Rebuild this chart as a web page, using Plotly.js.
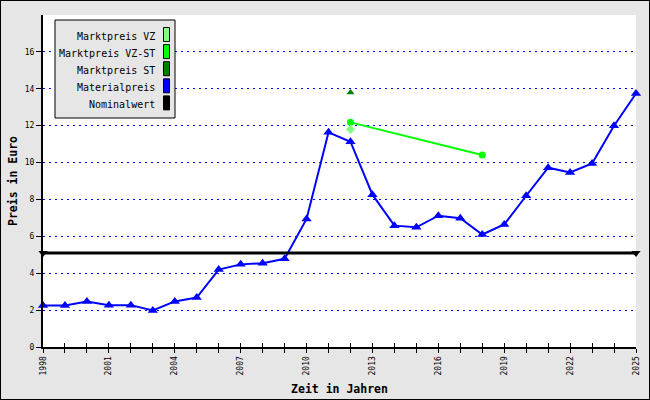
<!DOCTYPE html>
<html><head><meta charset="utf-8">
<script src="https://cdn.plot.ly/plotly-3.0.1.min.js"></script>
<style>html,body{margin:0;padding:0;background:#e6e6e6}#c{width:648px;height:398px;border:1px solid #000}</style>
</head><body><div id="c"></div>
<script>
const years = [1998,1999,2000,2001,2002,2003,2004,2005,2006,2007,2008,2009,2010,2011,2012,2013,2014,2015,2016,2017,2018,2019,2020,2021,2022,2023,2024,2025];
const materialpreis = [2.25,2.25,2.47,2.27,2.27,1.98,2.47,2.68,4.2,4.48,4.54,4.78,6.94,11.64,11.13,8.26,6.58,6.49,7.12,6.98,6.1,6.64,8.2,9.72,9.46,9.95,12.0,13.74];
const vzstYears = [2012,2018];
const vzstValues = [12.18,10.41];
const vzYears = [2012];
const vzValues = [11.8];
const stYears = [2012];
const stValues = [13.8];
const nominalYears = [1998,2025];
const nominalValues = [5.1,5.1];
const xTickLabels = years.map(y => ((y-1998)%3===0) ? String(y) : '');
const yTicks = [0,2,4,6,8,10,12,14,16];
const legendNames = ['Marktpreis VZ','Marktpreis VZ-ST','Marktpreis ST','Materialpreis','Nominalwert'];
const legendColors = ['#80ff80','#00ff00','#008000','#0000ff','#000000'];

const mono = 'DejaVu Sans Mono, monospace';
const traces = [
  {x: years, y: materialpreis, mode:'lines+markers', line:{color:'#0000ff', width:2},
   marker:{symbol:'triangle-up', size:9, color:'#0000ff'}, cliponaxis:false, hoverinfo:'none'},
  {x: nominalYears, y: nominalValues, mode:'lines+markers', line:{color:'#000000', width:3},
   marker:{symbol:'triangle-down', size:8, color:'#000000'}, cliponaxis:false, hoverinfo:'none'},
  {x: vzstYears, y: vzstValues, mode:'lines+markers', line:{color:'#00ff00', width:2},
   marker:{symbol:'circle', size:7, color:'#00ff00'}, cliponaxis:false, hoverinfo:'none'},
  {x: vzYears, y: vzValues, mode:'markers',
   marker:{symbol:'diamond', size:7, color:'#80ff80'}, cliponaxis:false, hoverinfo:'none'},
  {x: stYears, y: stValues, mode:'markers',
   marker:{symbol:'triangle-up', size:7, color:'#008000'}, cliponaxis:false, hoverinfo:'none'},
  {x: [years[0]], y: [0], xaxis:'x2', mode:'markers', marker:{opacity:0}, hoverinfo:'none'}
];

// pixel -> paper helpers (plot area 43..636 x, 15..347 y)
const px = x => (x-43)/593;
const py = y => (347-y)/332;
const shapes = [];
const annotations = [];
shapes.push({type:'rect', xref:'paper', yref:'paper', x0:px(55), x1:px(175), y0:py(20), y1:py(118),
  fillcolor:'#e6e6e6', line:{color:'#000', width:1}, layer:'above'});
legendNames.forEach((n,i) => {
  const cy = 34.5 + i*17.1;
  shapes.push({type:'rect', xref:'paper', yref:'paper', x0:px(163.5), x1:px(169.5), y0:py(cy-7), y1:py(cy+7),
    fillcolor:legendColors[i], line:{color:'#000', width:1}, layer:'above'});
  annotations.push({xref:'paper', yref:'paper', x:px(157), y:py(cy+1.5), xanchor:'right', yanchor:'middle',
    text:n, showarrow:false, font:{family:mono, size:10, color:'#000'}});
});

const layout = {
  width:648, height:398,
  paper_bgcolor:'#e6e6e6', plot_bgcolor:'#ffffff',
  margin:{l:42, r:13, t:14, b:52},
  showlegend:false,
  xaxis:{range:[1998,2025], tickmode:'array', tickvals:years, ticktext:xTickLabels, tickangle:-90,
    ticks:'outside', ticklen:4, tickcolor:'#000', tickwidth:1, showgrid:false, zeroline:false,
    showline:true, linecolor:'#000', linewidth:2, tickfont:{family:mono, size:8, color:'#000'},
    title:{text:'Zeit in Jahren', font:{family:mono, size:11.5, color:'#000', weight:'bold'}, standoff:10}},
  xaxis2:{range:[1998,2025], overlaying:'x', anchor:'y', side:'bottom', tickmode:'array', tickvals:years,
    showticklabels:false, ticks:'inside', ticklen:4, tickcolor:'#000', tickwidth:1, showgrid:false, zeroline:false, showline:false},
  yaxis:{range:[0,18], tickmode:'array', tickvals:yTicks, ticks:'outside', ticklen:5, tickcolor:'#000',
    showgrid:true, gridcolor:'#0000ff', griddash:'2px,4px', gridwidth:1, zeroline:false,
    showline:true, linecolor:'#000', linewidth:2, tickfont:{family:mono, size:8, color:'#000'},
    title:{text:'Preis in Euro', font:{family:mono, size:11.5, color:'#000', weight:'bold'}, standoff:5}},
  shapes, annotations
};
Plotly.newPlot('c', traces, layout, {displayModeBar:false, staticPlot:true});
</script></body></html>
